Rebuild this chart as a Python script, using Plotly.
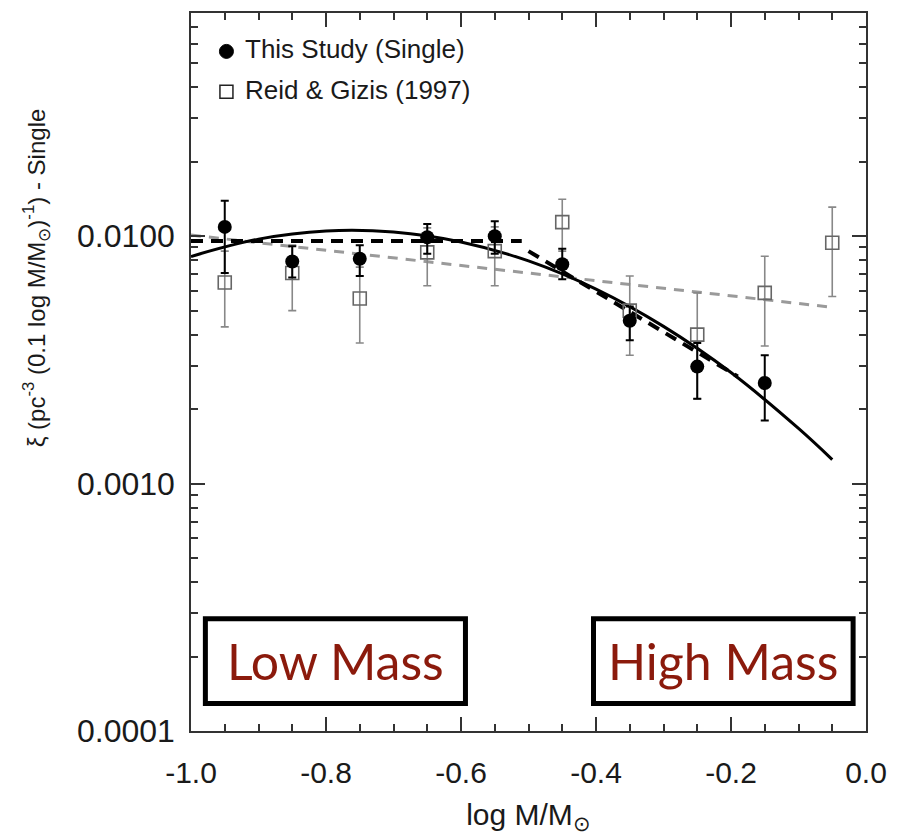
import plotly.graph_objects as go
import numpy as np

# ---------------- data ----------------
x_study = [-0.95, -0.85, -0.75, -0.65, -0.55, -0.45, -0.35, -0.25, -0.15]
y_study = [0.0109, 0.0079, 0.0081, 0.0099, 0.0100, 0.0077, 0.00455, 0.00297, 0.00255]
hi_study = [0.0139, 0.0091, 0.0092, 0.0112, 0.0115, 0.0089, 0.0052, 0.0037, 0.0033]
lo_study = [0.0071, 0.0068, 0.0069, 0.0085, 0.0085, 0.0067, 0.0038, 0.0022, 0.0018]

x_reid = [-0.95, -0.85, -0.75, -0.65, -0.55, -0.45, -0.35, -0.25, -0.15, -0.05]
y_reid = [0.0065, 0.0071, 0.0056, 0.0086, 0.0087, 0.0114, 0.0050, 0.0040, 0.0059, 0.0094]
hi_reid = [0.0087, 0.0092, 0.0075, 0.0108, 0.0109, 0.0141, 0.0069, 0.0059, 0.0083, 0.0131]
lo_reid = [0.0043, 0.0050, 0.0037, 0.0063, 0.0063, 0.0087, 0.0033, 0.0022, 0.0036, 0.0057]

# log-normal fit (solid)
fit_x = [-1.0, -0.9, -0.8, -0.7, -0.6, -0.5, -0.4, -0.3, -0.2, -0.1, -0.05]
fit_y = [0.00828, 0.00973, 0.0105, 0.0104, 0.00948, 0.00794, 0.00611, 0.00432, 0.00281, 0.00167, 0.00125]

# broken power law (black dashed)
bpl_x = [-1.0, -0.51, None, -0.50, -0.19]
bpl_y = [0.00955, 0.00955, None, 0.0087, 0.00271]

# Reid & Gizis power law (gray dashed)
rg_x = [-1.0, -0.05]
rg_y = [0.0101, 0.00516]

x_ticks = [-1.0, -0.8, -0.6, -0.4, -0.2, 0.0]
x_ticklabels = ["-1.0", "-0.8", "-0.6", "-0.4", "-0.2", "0.0"]
y_ticks = [1e-4, 1e-3, 1e-2]
y_ticklabels = ["0.0001", "0.0010", "0.0100"]

# ---------------- figure ----------------
FONT = "Liberation Sans, Arial, Helvetica, sans-serif"
GRAY_ERR = "#888888"
GRAY_SQ = "#666666"

fig = go.Figure()

fig.add_trace(go.Scatter(x=rg_x, y=rg_y, mode="lines",
                         line=dict(color="#9a9a9a", width=3, dash="10px,8px"),
                         showlegend=False, hoverinfo="skip"))
fig.add_trace(go.Scatter(x=fit_x, y=fit_y, mode="lines",
                         line=dict(color="black", width=3, shape="spline"),
                         showlegend=False, hoverinfo="skip"))
fig.add_trace(go.Scatter(x=bpl_x, y=bpl_y, mode="lines", connectgaps=False,
                         line=dict(color="black", width=4, dash="12px,8px"),
                         showlegend=False, hoverinfo="skip"))

yr = np.array(y_reid)
fig.add_trace(go.Scatter(
    x=x_reid, y=y_reid, mode="markers", name="Reid & Gizis (1997)",
    marker=dict(symbol="square-open", size=13, color=GRAY_SQ, line=dict(width=1.6, color=GRAY_SQ)),
    error_y=dict(type="data", symmetric=False,
                 array=list(np.array(hi_reid) - yr),
                 arrayminus=list(yr - np.array(lo_reid)),
                 color=GRAY_ERR, thickness=1.6, width=4),
    showlegend=False))

ys = np.array(y_study)
fig.add_trace(go.Scatter(
    x=x_study, y=y_study, mode="markers", name="This Study (Single)",
    marker=dict(symbol="circle", size=14, color="black"),
    error_y=dict(type="data", symmetric=False,
                 array=list(np.array(hi_study) - ys),
                 arrayminus=list(ys - np.array(lo_study)),
                 color="black", thickness=2, width=4),
    showlegend=False))

# minor tick values for log axis (2..9 in each decade within range)
minor_y = sorted(m * 10.0 ** e for e in range(-4, -1) for m in range(2, 10)) + [0.02, 0.03, 0.04, 0.05, 0.06, 0.07]

axis_common = dict(
    showline=True, linecolor="#333333", linewidth=1.5, mirror="allticks",
    ticks="inside", ticklen=14, tickwidth=1.5, tickcolor="#333333",
    showgrid=False, zeroline=False,
)

fig.update_layout(
    width=898, height=837,
    margin=dict(l=191, r=27, t=11, b=97),
    paper_bgcolor="white", plot_bgcolor="white",
    showlegend=False,
    font=dict(family=FONT, color="#1a1a1a"),
    xaxis=dict(
        range=[-1.0, 0.0], tickvals=x_ticks, ticktext=x_ticklabels,
        tickfont=dict(family=FONT, size=30, color="#1a1a1a"),
        minor=dict(dtick=0.05, tick0=0, ticks="inside", ticklen=7, tickwidth=1.5, tickcolor="#333333"),
        ticklabelstandoff=14,
        title=dict(text="log M/M<sub>⊙</sub>", font=dict(family=FONT, size=30, color="#1a1a1a"), standoff=16),
        **axis_common),
    yaxis=dict(
        type="log", range=[-4, -1.098], tickvals=y_ticks, ticktext=y_ticklabels,
        tickfont=dict(family=FONT, size=32, color="#1a1a1a"),
        minor=dict(tickvals=minor_y, ticks="inside", ticklen=7, tickwidth=1.5, tickcolor="#333333"),
        ticklabelstandoff=8,
        **axis_common),
)

# y-axis title as annotation
fig.add_annotation(
    xref="paper", yref="paper", x=-0.229, y=0.631,
    text="ξ (pc<sup>-3</sup> (0.1 log M/M<sub>⊙</sub>)<sup>-1</sup>) - Single",
    textangle=-90, showarrow=False, font=dict(family=FONT, size=24, color="#1a1a1a"),
    xanchor="center", yanchor="middle")

# manual legend
fig.add_shape(type="circle", xref="paper", yref="paper", xsizemode="pixel", ysizemode="pixel",
              xanchor=0.0525, yanchor=0.9465, x0=-7, x1=7, y0=-7, y1=7,
              fillcolor="black", line=dict(color="black", width=1))
fig.add_shape(type="rect", xref="paper", yref="paper", xsizemode="pixel", ysizemode="pixel",
              xanchor=0.0525, yanchor=0.8903, x0=-6.5, x1=6.5, y0=-6.5, y1=6.5,
              fillcolor="rgba(0,0,0,0)", line=dict(color="#222222", width=1.5))
fig.add_annotation(xref="paper", yref="paper", x=0.0765, y=0.9495, text="This Study (Single)",
                   showarrow=False, xanchor="left", yanchor="middle",
                   font=dict(family=FONT, size=26, color="#1a1a1a"))
fig.add_annotation(xref="paper", yref="paper", x=0.0765, y=0.893, text="Reid &amp; Gizis (1997)",
                   showarrow=False, xanchor="left", yanchor="middle",
                   font=dict(family=FONT, size=26, color="#1a1a1a"))

# Low / High mass boxes
for (x0, x1, label) in [(0.0213, 0.4066, "Low Mass"), (0.5963, 0.9809, "High Mass")]:
    fig.add_shape(type="rect", xref="paper", yref="paper", x0=x0, x1=x1, y0=0.0384, y1=0.1564,
                  line=dict(color="black", width=5), fillcolor="white", layer="above")
    fig.add_annotation(xref="paper", yref="paper", x=(x0 + x1) / 2, y=0.0974, text=label,
                       showarrow=False, xanchor="center", yanchor="middle",
                       font=dict(family="Lato, sans-serif", size=50, color="#8b1a0c"))

fig.write_html("out.html")
